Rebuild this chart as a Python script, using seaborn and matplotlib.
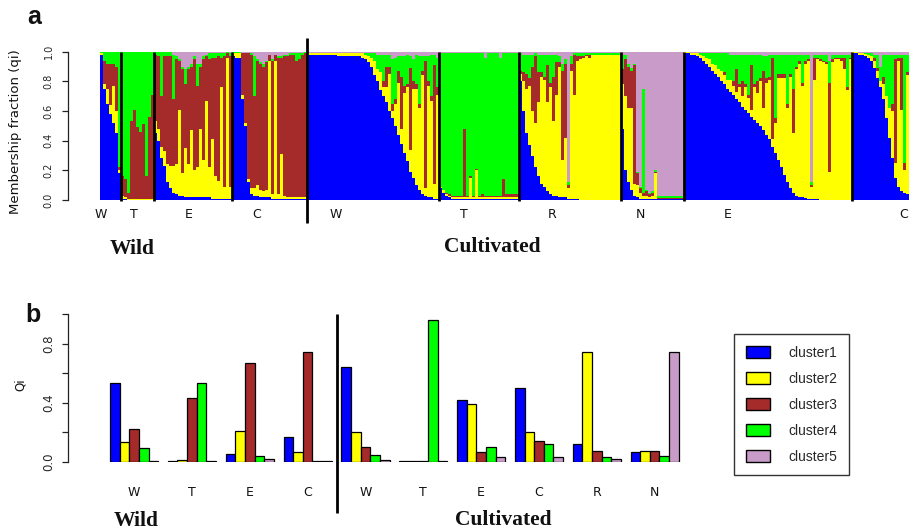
import numpy as np
import pandas as pd
import matplotlib
matplotlib.use("Agg")
import matplotlib.pyplot as plt
import matplotlib.transforms as mtransforms
from matplotlib.patches import Patch
import seaborn as sns

# ---------------- data ----------------
clusters = ["cluster1", "cluster2", "cluster3", "cluster4", "cluster5"]
colors = ["#0000FF", "#FFFF00", "#A52A2A", "#00FF00", "#C99BC9"]

# Panel a: membership fractions (q1..q5) per individual
wild_W = [
    (0.98, 0.01, 0.00, 0.01, 0.00), (0.75, 0.03, 0.16, 0.06, 0.00),
    (0.65, 0.10, 0.17, 0.08, 0.00), (0.58, 0.06, 0.28, 0.08, 0.00),
    (0.52, 0.25, 0.15, 0.08, 0.00), (0.45, 0.15, 0.30, 0.10, 0.00),
    (0.18, 0.02, 0.02, 0.78, 0.00),
]
wild_T = [
    (0.01, 0.02, 0.13, 0.84, 0.00), (0.01, 0.01, 0.12, 0.86, 0.00),
    (0.00, 0.01, 0.04, 0.95, 0.00), (0.00, 0.01, 0.52, 0.47, 0.00),
    (0.00, 0.01, 0.60, 0.39, 0.00), (0.00, 0.01, 0.48, 0.51, 0.00),
    (0.00, 0.01, 0.45, 0.54, 0.00), (0.00, 0.01, 0.50, 0.49, 0.00),
    (0.00, 0.01, 0.15, 0.84, 0.00), (0.00, 0.01, 0.55, 0.44, 0.00),
    (0.00, 0.01, 0.70, 0.29, 0.00),
]
wild_E = [
    (0.45, 0.08, 0.45, 0.02, 0.00), (0.40, 0.08, 0.49, 0.03, 0.00),
    (0.28, 0.08, 0.34, 0.30, 0.00), (0.23, 0.10, 0.64, 0.03, 0.00),
    (0.12, 0.12, 0.73, 0.03, 0.00), (0.08, 0.15, 0.74, 0.03, 0.00),
    (0.05, 0.18, 0.45, 0.30, 0.02), (0.04, 0.20, 0.71, 0.02, 0.03),
    (0.03, 0.58, 0.33, 0.01, 0.05), (0.03, 0.15, 0.70, 0.02, 0.10),
    (0.02, 0.33, 0.43, 0.10, 0.12), (0.02, 0.22, 0.64, 0.02, 0.10),
    (0.02, 0.45, 0.43, 0.02, 0.08), (0.02, 0.18, 0.75, 0.02, 0.03),
    (0.02, 0.20, 0.55, 0.15, 0.08), (0.02, 0.46, 0.42, 0.02, 0.08),
    (0.02, 0.25, 0.68, 0.02, 0.03), (0.02, 0.65, 0.30, 0.01, 0.02),
    (0.02, 0.20, 0.73, 0.04, 0.01), (0.01, 0.40, 0.55, 0.03, 0.01),
    (0.01, 0.15, 0.80, 0.03, 0.01), (0.01, 0.12, 0.84, 0.02, 0.01),
    (0.01, 0.75, 0.20, 0.03, 0.01), (0.01, 0.08, 0.88, 0.02, 0.01),
    (0.01, 0.95, 0.03, 0.01, 0.00), (0.01, 0.08, 0.88, 0.02, 0.01),
]
wild_C = [
    (0.97, 0.02, 0.00, 0.01, 0.00), (0.96, 0.03, 0.00, 0.01, 0.00),
    (0.96, 0.03, 0.00, 0.01, 0.00), (0.68, 0.03, 0.28, 0.00, 0.01),
    (0.50, 0.02, 0.47, 0.00, 0.01), (0.12, 0.02, 0.85, 0.00, 0.01),
    (0.04, 0.04, 0.90, 0.01, 0.01), (0.03, 0.05, 0.62, 0.27, 0.03),
    (0.03, 0.07, 0.84, 0.01, 0.05), (0.02, 0.05, 0.85, 0.01, 0.07),
    (0.02, 0.04, 0.84, 0.02, 0.08), (0.02, 0.05, 0.86, 0.01, 0.06),
    (0.02, 0.92, 0.04, 0.00, 0.02), (0.01, 0.03, 0.90, 0.01, 0.05),
    (0.01, 0.93, 0.04, 0.00, 0.02), (0.01, 0.03, 0.92, 0.01, 0.03),
    (0.01, 0.30, 0.65, 0.01, 0.03), (0.01, 0.02, 0.94, 0.01, 0.02),
    (0.01, 0.01, 0.95, 0.01, 0.02), (0.01, 0.01, 0.96, 0.01, 0.01),
    (0.01, 0.01, 0.96, 0.01, 0.01), (0.01, 0.01, 0.92, 0.05, 0.01),
    (0.01, 0.01, 0.93, 0.04, 0.01), (0.01, 0.01, 0.96, 0.01, 0.01),
    (0.01, 0.01, 0.97, 0.01, 0.00),
]
cult_W = [
    (0.98, 0.01, 0.00, 0.00, 0.01), (0.98, 0.01, 0.00, 0.00, 0.01),
    (0.98, 0.01, 0.00, 0.00, 0.01), (0.98, 0.01, 0.00, 0.00, 0.01),
    (0.98, 0.01, 0.00, 0.00, 0.01), (0.98, 0.01, 0.00, 0.00, 0.01),
    (0.98, 0.01, 0.00, 0.00, 0.01), (0.98, 0.01, 0.00, 0.00, 0.01),
    (0.98, 0.01, 0.00, 0.00, 0.01), (0.98, 0.01, 0.00, 0.00, 0.01),
    (0.97, 0.02, 0.00, 0.00, 0.01), (0.97, 0.02, 0.00, 0.00, 0.01),
    (0.97, 0.02, 0.00, 0.00, 0.01), (0.97, 0.02, 0.00, 0.00, 0.01),
    (0.97, 0.02, 0.00, 0.00, 0.01), (0.97, 0.02, 0.00, 0.00, 0.01),
    (0.97, 0.02, 0.00, 0.00, 0.01), (0.97, 0.02, 0.00, 0.00, 0.01),
    (0.96, 0.03, 0.00, 0.00, 0.01), (0.95, 0.03, 0.00, 0.01, 0.01),
    (0.93, 0.04, 0.00, 0.02, 0.01), (0.90, 0.06, 0.00, 0.03, 0.01),
    (0.84, 0.10, 0.00, 0.05, 0.01), (0.80, 0.08, 0.00, 0.10, 0.02),
    (0.74, 0.12, 0.00, 0.12, 0.02), (0.70, 0.06, 0.04, 0.18, 0.02),
    (0.66, 0.10, 0.14, 0.08, 0.02), (0.60, 0.25, 0.05, 0.08, 0.02),
    (0.55, 0.05, 0.05, 0.30, 0.05), (0.50, 0.15, 0.03, 0.28, 0.04),
    (0.44, 0.35, 0.08, 0.10, 0.03), (0.38, 0.10, 0.35, 0.14, 0.03),
    (0.32, 0.40, 0.05, 0.20, 0.03), (0.26, 0.50, 0.02, 0.20, 0.02),
    (0.19, 0.15, 0.55, 0.08, 0.03), (0.15, 0.60, 0.05, 0.15, 0.05),
    (0.10, 0.65, 0.03, 0.20, 0.02), (0.07, 0.55, 0.03, 0.32, 0.03),
    (0.04, 0.80, 0.03, 0.10, 0.03), (0.03, 0.05, 0.86, 0.03, 0.03),
    (0.02, 0.75, 0.03, 0.17, 0.03), (0.02, 0.65, 0.03, 0.28, 0.02),
    (0.01, 0.10, 0.80, 0.07, 0.02), (0.01, 0.70, 0.05, 0.20, 0.04),
]
cult_T = [
    (0.08, 0.01, 0.00, 0.90, 0.01), (0.05, 0.02, 0.00, 0.92, 0.01),
    (0.03, 0.01, 0.01, 0.94, 0.01), (0.02, 0.01, 0.01, 0.95, 0.01),
    (0.01, 0.01, 0.01, 0.96, 0.01), (0.01, 0.01, 0.01, 0.96, 0.01),
    (0.01, 0.01, 0.01, 0.96, 0.01), (0.01, 0.01, 0.01, 0.96, 0.01),
    (0.01, 0.01, 0.46, 0.51, 0.01), (0.01, 0.01, 0.01, 0.96, 0.01),
    (0.01, 0.14, 0.01, 0.83, 0.01), (0.01, 0.01, 0.01, 0.96, 0.01),
    (0.01, 0.19, 0.01, 0.78, 0.01), (0.01, 0.01, 0.01, 0.96, 0.01),
    (0.01, 0.01, 0.02, 0.95, 0.01), (0.01, 0.01, 0.01, 0.93, 0.04),
    (0.01, 0.01, 0.01, 0.96, 0.01), (0.01, 0.01, 0.01, 0.96, 0.01),
    (0.01, 0.01, 0.01, 0.96, 0.01), (0.01, 0.01, 0.01, 0.96, 0.01),
    (0.01, 0.01, 0.01, 0.93, 0.04), (0.01, 0.01, 0.12, 0.85, 0.01),
    (0.01, 0.01, 0.02, 0.95, 0.01), (0.01, 0.01, 0.02, 0.95, 0.01),
    (0.01, 0.01, 0.02, 0.95, 0.01), (0.01, 0.01, 0.02, 0.95, 0.01),
    (0.01, 0.01, 0.02, 0.95, 0.01),
]
cult_R = [
    (0.80, 0.05, 0.02, 0.12, 0.01), (0.60, 0.20, 0.06, 0.12, 0.02),
    (0.45, 0.30, 0.10, 0.13, 0.02), (0.37, 0.40, 0.05, 0.16, 0.02),
    (0.30, 0.30, 0.30, 0.08, 0.02), (0.22, 0.30, 0.45, 0.02, 0.01),
    (0.16, 0.50, 0.20, 0.12, 0.02), (0.11, 0.72, 0.03, 0.12, 0.02),
    (0.09, 0.72, 0.02, 0.15, 0.02), (0.06, 0.60, 0.25, 0.07, 0.02),
    (0.04, 0.72, 0.03, 0.19, 0.02), (0.03, 0.50, 0.30, 0.15, 0.02),
    (0.03, 0.68, 0.22, 0.05, 0.02), (0.02, 0.88, 0.03, 0.04, 0.03),
    (0.02, 0.25, 0.60, 0.05, 0.08), (0.02, 0.40, 0.50, 0.03, 0.05),
    (0.01, 0.07, 0.02, 0.02, 0.88), (0.01, 0.86, 0.05, 0.05, 0.03),
    (0.01, 0.70, 0.27, 0.01, 0.01), (0.01, 0.93, 0.03, 0.02, 0.01),
    (0.00, 0.95, 0.02, 0.02, 0.01), (0.00, 0.96, 0.01, 0.02, 0.01),
    (0.00, 0.97, 0.01, 0.01, 0.01), (0.00, 0.96, 0.02, 0.01, 0.01),
    (0.00, 0.98, 0.00, 0.01, 0.01), (0.00, 0.98, 0.00, 0.01, 0.01),
    (0.00, 0.98, 0.00, 0.01, 0.01), (0.00, 0.98, 0.00, 0.01, 0.01),
    (0.00, 0.98, 0.00, 0.01, 0.01), (0.00, 0.98, 0.00, 0.01, 0.01),
    (0.00, 0.98, 0.00, 0.01, 0.01), (0.00, 0.98, 0.00, 0.01, 0.01),
    (0.00, 0.98, 0.00, 0.01, 0.01), (0.00, 0.98, 0.00, 0.01, 0.01),
]
cult_N = [
    (0.48, 0.30, 0.10, 0.10, 0.02), (0.20, 0.50, 0.25, 0.03, 0.02),
    (0.12, 0.50, 0.28, 0.02, 0.08), (0.07, 0.55, 0.25, 0.02, 0.11),
    (0.03, 0.08, 0.80, 0.01, 0.08), (0.02, 0.08, 0.08, 0.01, 0.81),
    (0.01, 0.04, 0.03, 0.01, 0.91), (0.01, 0.02, 0.02, 0.70, 0.25),
    (0.01, 0.02, 0.03, 0.01, 0.93), (0.01, 0.01, 0.02, 0.01, 0.95),
    (0.01, 0.02, 0.02, 0.01, 0.94), (0.01, 0.17, 0.01, 0.01, 0.80),
    (0.005, 0.005, 0.005, 0.01, 0.975), (0.005, 0.005, 0.005, 0.01, 0.975),
    (0.005, 0.005, 0.005, 0.01, 0.975), (0.005, 0.005, 0.005, 0.01, 0.975),
    (0.005, 0.005, 0.005, 0.01, 0.975), (0.005, 0.005, 0.005, 0.01, 0.975),
    (0.005, 0.005, 0.005, 0.01, 0.975), (0.005, 0.005, 0.005, 0.01, 0.975),
    (0.005, 0.005, 0.005, 0.01, 0.975),
]
cult_E = [
    (0.99, 0.005, 0.00, 0.00, 0.005), (0.99, 0.005, 0.00, 0.00, 0.005),
    (0.98, 0.01, 0.00, 0.00, 0.01), (0.98, 0.01, 0.00, 0.00, 0.01),
    (0.97, 0.02, 0.00, 0.00, 0.01), (0.96, 0.02, 0.00, 0.01, 0.01),
    (0.94, 0.03, 0.00, 0.02, 0.01), (0.92, 0.04, 0.00, 0.03, 0.01),
    (0.90, 0.05, 0.00, 0.04, 0.01), (0.87, 0.05, 0.00, 0.07, 0.01),
    (0.85, 0.06, 0.00, 0.08, 0.01), (0.83, 0.05, 0.00, 0.11, 0.01),
    (0.80, 0.07, 0.00, 0.12, 0.01), (0.78, 0.06, 0.02, 0.13, 0.01),
    (0.75, 0.06, 0.00, 0.18, 0.01), (0.73, 0.08, 0.00, 0.17, 0.02),
    (0.71, 0.06, 0.03, 0.18, 0.02), (0.68, 0.05, 0.15, 0.10, 0.02),
    (0.66, 0.10, 0.02, 0.20, 0.02), (0.63, 0.07, 0.10, 0.18, 0.02),
    (0.61, 0.15, 0.02, 0.20, 0.02), (0.59, 0.10, 0.02, 0.27, 0.02),
    (0.56, 0.05, 0.30, 0.07, 0.02), (0.54, 0.22, 0.02, 0.20, 0.02),
    (0.52, 0.20, 0.08, 0.18, 0.02), (0.50, 0.30, 0.02, 0.16, 0.02),
    (0.47, 0.15, 0.25, 0.10, 0.03), (0.44, 0.35, 0.03, 0.15, 0.03),
    (0.41, 0.40, 0.02, 0.15, 0.02), (0.36, 0.05, 0.55, 0.02, 0.02),
    (0.32, 0.20, 0.03, 0.43, 0.02), (0.27, 0.55, 0.03, 0.13, 0.02),
    (0.22, 0.60, 0.03, 0.13, 0.02), (0.17, 0.65, 0.03, 0.13, 0.02),
    (0.12, 0.50, 0.03, 0.33, 0.02), (0.08, 0.75, 0.02, 0.13, 0.02),
    (0.05, 0.40, 0.30, 0.23, 0.02), (0.03, 0.85, 0.02, 0.08, 0.02),
    (0.02, 0.90, 0.02, 0.04, 0.02), (0.02, 0.75, 0.02, 0.19, 0.02),
    (0.015, 0.90, 0.02, 0.045, 0.02), (0.01, 0.93, 0.01, 0.03, 0.02),
    (0.01, 0.08, 0.01, 0.02, 0.88), (0.01, 0.80, 0.15, 0.02, 0.02),
    (0.01, 0.94, 0.01, 0.02, 0.02), (0.00, 0.94, 0.01, 0.03, 0.02),
    (0.00, 0.93, 0.01, 0.04, 0.02), (0.00, 0.92, 0.01, 0.05, 0.02),
    (0.00, 0.19, 0.60, 0.15, 0.06), (0.00, 0.93, 0.02, 0.03, 0.02),
    (0.00, 0.95, 0.01, 0.02, 0.02), (0.00, 0.95, 0.01, 0.02, 0.02),
    (0.00, 0.94, 0.02, 0.02, 0.02), (0.00, 0.88, 0.08, 0.02, 0.02),
    (0.00, 0.74, 0.02, 0.22, 0.02), (0.00, 0.95, 0.01, 0.02, 0.02),
]
cult_C = [
    (0.99, 0.005, 0.00, 0.00, 0.005), (0.99, 0.005, 0.00, 0.00, 0.005),
    (0.98, 0.01, 0.00, 0.00, 0.01), (0.98, 0.01, 0.00, 0.00, 0.01),
    (0.97, 0.015, 0.00, 0.005, 0.01), (0.96, 0.02, 0.00, 0.01, 0.01),
    (0.94, 0.03, 0.00, 0.02, 0.01), (0.89, 0.05, 0.02, 0.02, 0.02),
    (0.82, 0.05, 0.02, 0.09, 0.02), (0.76, 0.04, 0.00, 0.10, 0.10),
    (0.68, 0.10, 0.05, 0.15, 0.02), (0.55, 0.15, 0.00, 0.28, 0.02),
    (0.42, 0.20, 0.00, 0.36, 0.02), (0.28, 0.32, 0.05, 0.33, 0.02),
    (0.15, 0.10, 0.70, 0.03, 0.02), (0.09, 0.85, 0.02, 0.02, 0.02),
    (0.06, 0.55, 0.35, 0.02, 0.02), (0.05, 0.15, 0.05, 0.73, 0.02),
    (0.04, 0.80, 0.02, 0.12, 0.02), (0.03, 0.50, 0.10, 0.35, 0.02),
    (0.03, 0.60, 0.15, 0.20, 0.02), (0.02, 0.70, 0.10, 0.16, 0.02),
]
a_group_labels = ["W", "T", "E", "C", "W", "T", "R", "N", "E", "C"]

# Panel b: mean membership (Qi) per population
b_populations = ["W", "T", "E", "C", "W", "T", "E", "C", "R", "N"]
b_origin = ["Wild"] * 4 + ["Cultivated"] * 6
qi_cluster1 = [0.53, 0.005, 0.055, 0.17, 0.64, 0.005, 0.42, 0.50, 0.12, 0.065]
qi_cluster2 = [0.13, 0.01, 0.21, 0.065, 0.20, 0.005, 0.39, 0.20, 0.745, 0.075]
qi_cluster3 = [0.22, 0.43, 0.67, 0.74, 0.10, 0.005, 0.065, 0.14, 0.075, 0.075]
qi_cluster4 = [0.095, 0.53, 0.04, 0.005, 0.045, 0.96, 0.10, 0.12, 0.035, 0.04]
qi_cluster5 = [0.005, 0.005, 0.02, 0.005, 0.01, 0.005, 0.035, 0.035, 0.02, 0.74]

# ---------------- figure ----------------
sns.set_theme(style="white")
plt.rcParams["font.family"] = ["DejaVu Sans"]

W, H = 909, 532
fig = plt.figure(figsize=(W / 100, H / 100), dpi=100)
fig.patch.set_facecolor("white")


def px_axes(left, top, right, bottom):
    return fig.add_axes([left / W, 1 - bottom / H, (right - left) / W, (bottom - top) / H])


def fig_y(py):
    return 1 - py / H


# ---- panel a ----
axa = px_axes(100, 51.7, 909, 200)
groups_a = [wild_W, wild_T, wild_E, wild_C, cult_W, cult_T, cult_R, cult_N, cult_E, cult_C]
Q = np.array([row for g in groups_a for row in g], dtype=float)
Q = Q / Q.sum(axis=1, keepdims=True)
xs = np.arange(len(Q)) + 0.5
bottom = np.zeros(len(Q))
for k in range(5):
    axa.bar(xs, Q[:, k], bottom=bottom, width=1.0, color=colors[k],
            linewidth=0, antialiased=False, zorder=1)
    bottom += Q[:, k]
axa.set_xlim(0, 270)
axa.set_ylim(0, 1)

sizes = [len(g) for g in groups_a]
bounds = np.cumsum(sizes)[:-1]
for i, b in enumerate(bounds):
    if i == 3:
        axa.plot([b, b], [-0.155, 1.09], color="black", lw=2.0, clip_on=False,
                 zorder=5, solid_capstyle="butt")
    else:
        axa.plot([b, b], [-0.01, 1.0], color="black", lw=2.0, clip_on=False,
                 zorder=5, solid_capstyle="butt")

for s in ["top", "right", "bottom"]:
    axa.spines[s].set_visible(False)
axa.spines["left"].set_position(("outward", 23))
axa.spines["left"].set_bounds(0, 1)
axa.spines["left"].set_color("#222222")
axa.spines["left"].set_linewidth(0.9)
axa.set_xticks([])
axa.set_yticks([0, 0.2, 0.4, 0.6, 0.8, 1.0])
axa.set_yticklabels(["0.0", "0.2", "0.4", "0.6", "0.8", "1.0"])
axa.tick_params(axis="y", left=True, length=4.3, width=0.9, color="#222222",
                labelsize=7, pad=6, direction="out")
for lbl in axa.get_yticklabels():
    lbl.set_rotation(90)
    lbl.set_verticalalignment("center")
axa.set_facecolor("white")

fig.text(16 / W, fig_y(132), "Membership fraction (qi)", rotation=90,
         ha="center", va="center", fontsize=9.5, color="#111111")

# group letters under panel a
starts = np.concatenate([[0], np.cumsum(sizes)[:-1]])
a_label_offsets = [0.3, 4.2, 11.5, 8.3, 9.6, 8.5, 10.9, 6.5, 14.4, 17.3]
ta = mtransforms.blended_transform_factory(axa.transData, fig.transFigure)
for st, off, lab in zip(starts, a_label_offsets, a_group_labels):
    axa.text(st + off, fig_y(218), lab, transform=ta, ha="center", va="baseline",
             fontsize=9, color="#111111", clip_on=False)

serif = dict(family="Liberation Serif", weight="bold", size=15.5, color="#111111",
             ha="center", va="baseline")
fig.text(132 / W, fig_y(253.5), "Wild", **serif)
fig.text(492.5 / W, fig_y(252.5), "Cultivated", **serif)
fig.text(27 / W, fig_y(24), "a", family="Liberation Sans", weight="bold",
         size=18, ha="left", va="baseline", color="#111111")

# ---- panel b ----
axb = px_axes(100, 314, 690, 461.7)
keys = [f"{o}-{p}" for o, p in zip(b_origin, b_populations)]
df = pd.DataFrame({
    "population": keys * 5,
    "cluster": [c for c in clusters for _ in keys],
    "Qi": qi_cluster1 + qi_cluster2 + qi_cluster3 + qi_cluster4 + qi_cluster5,
})
sns.barplot(data=df, x="population", y="Qi", hue="cluster", order=keys,
            hue_order=clusters, palette=colors, width=5 / 6, gap=0,
            saturation=1, edgecolor="black", linewidth=0.9, errorbar=None,
            legend=False, ax=axb)
axb.set_xlim(-0.5896, 9.611)
axb.set_ylim(0, 1)
for s in ["top", "right", "bottom"]:
    axb.spines[s].set_visible(False)
axb.spines["left"].set_position(("outward", 23))
axb.spines["left"].set_bounds(0, 1)
axb.spines["left"].set_color("#222222")
axb.spines["left"].set_linewidth(0.9)
axb.set_yticks([0, 0.2, 0.4, 0.6, 0.8, 1.0])
axb.set_yticklabels(["0.0", "", "0.4", "", "0.8", ""])
axb.tick_params(axis="y", left=True, length=4.3, width=0.9, color="#222222",
                labelsize=8.5, pad=5, direction="out")
for lbl in axb.get_yticklabels():
    lbl.set_rotation(90)
    lbl.set_verticalalignment("center")
axb.set_xticks([])
axb.set_xlabel("")
axb.set_ylabel("")

n_wild = b_origin.count("Wild")
axb.plot([n_wild - 0.5, n_wild - 0.5], [-0.347, 1.0], color="black", lw=2.0,
         clip_on=False, solid_capstyle="butt", zorder=5)

tb = mtransforms.blended_transform_factory(axb.transData, fig.transFigure)
for i, lab in enumerate(b_populations):
    axb.text(i, fig_y(496.5), lab, transform=tb, ha="center", va="baseline",
             fontsize=9, color="#111111", clip_on=False)

fig.text(20 / W, fig_y(385), "Qi", rotation=90, ha="center", va="center",
         fontsize=8.5, color="#111111")
fig.text(136.5 / W, fig_y(526), "Wild", **serif)
fig.text(503 / W, fig_y(525), "Cultivated", **serif)
fig.text(25 / W, fig_y(322), "b", family="Liberation Sans", weight="bold",
         size=18, ha="left", va="baseline", color="#111111")

handles = [Patch(facecolor=c, edgecolor="black", linewidth=1.0, label=l)
           for c, l in zip(colors, clusters)]
leg = fig.legend(handles=handles, loc="upper left",
                 bbox_to_anchor=(734 / W, fig_y(334)), frameon=True,
                 fancybox=False, shadow=False, edgecolor="#333333", framealpha=1,
                 prop={"family": "Liberation Sans", "size": 10},
                 handlelength=1.75, handleheight=0.95, handletextpad=1.3,
                 labelspacing=0.86, borderpad=0.85, borderaxespad=0)
leg.get_frame().set_linewidth(1.0)

fig.savefig("out.png", dpi=100, facecolor="white")
